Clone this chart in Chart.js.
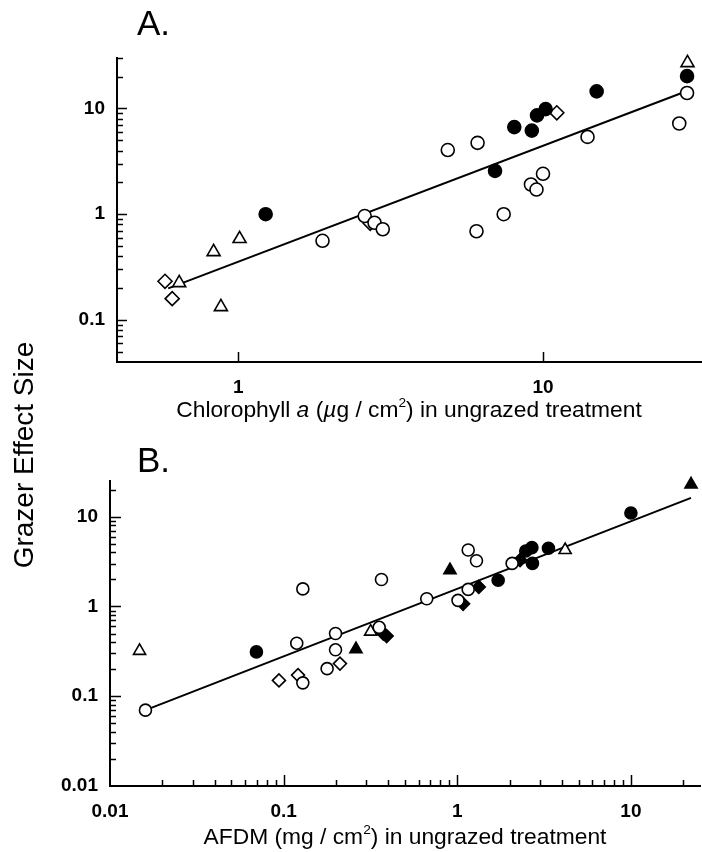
<!DOCTYPE html>
<html><head><meta charset="utf-8">
<script src="https://cdn.jsdelivr.net/npm/chart.js@4.4.1/dist/chart.umd.min.js"></script>
<style>
html,body{margin:0;padding:0;background:#fff;}
body{width:702px;height:852px;position:relative;overflow:hidden;font-family:'Liberation Sans',Arial,Helvetica,sans-serif;color:#000;}
.panel{position:absolute;left:0;width:702px;}
#wrapA{top:0;height:430px;}
#wrapB{top:430px;height:422px;}
.lab{position:absolute;font-size:35px;line-height:1;}
.xt{position:absolute;font-size:22.8px;line-height:1;text-align:center;white-space:nowrap;}
.xt sup{font-size:0.6em;line-height:0;vertical-align:0.7em;}
.yt{position:absolute;left:-126px;top:441px;width:300px;height:28px;font-size:28px;line-height:1;text-align:center;white-space:nowrap;transform:rotate(-90deg);transform-origin:center center;}
</style></head><body>
<div class="panel" id="wrapA"><canvas id="chartA"></canvas></div>
<div class="panel" id="wrapB"><canvas id="chartB"></canvas></div>
<div class="lab" style="left:137px;top:5px">A.</div>
<div class="lab" style="left:137px;top:442px">B.</div>
<div class="xt" style="left:117px;width:584px;top:398px">Chlorophyll <i>a</i> (<i>µ</i>g / cm<sup>2</sup>) in ungrazed treatment</div>
<div class="xt" style="left:110px;width:590px;top:825px">AFDM (mg / cm<sup>2</sup>) in ungrazed treatment</div>
<div class="yt">Grazer Effect Size</div>
<script>
// ---- tick labels ----
const A_xTickLabels = ['1', '10'];
const A_yTickLabels = ['0.1', '1', '10'];
const B_xTickLabels = ['0.01', '0.1', '1', '10'];
const B_yTickLabels = ['0.01', '0.1', '1', '10'];

// ---- Panel A: chlorophyll a (x) vs grazer effect size (y) ----
const A_openCircles = [[1.89,0.56],[2.60,0.96],[2.80,0.83],[2.98,0.72],[4.87,4.04],[6.10,4.73],[6.05,0.69],[7.43,1.0],[9.13,1.91],[9.52,1.71],[10.0,2.41],[14.0,5.38],[28.0,7.2],[29.7,14.0]];
const A_filledCircles = [[1.23,1.0],[6.96,2.57],[8.05,6.66],[9.19,6.17],[9.56,8.6],[10.2,9.85],[15.0,14.5],[29.7,20.2]];
const A_openTriangles = [[0.64,0.224],[0.83,0.44],[1.01,0.585],[0.877,0.133],[29.8,27.0]];
const A_openDiamonds = [[0.575,0.232],[0.607,0.159],[2.71,0.82],[11.1,9.1]];
const A_fitLine = [[0.589,0.199],[29.1,14.3]];

// ---- Panel B: AFDM (x) vs grazer effect size (y) ----
const B_openCircles = [[0.016,0.070],[0.119,0.39],[0.129,1.57],[0.129,0.141],[0.178,0.203],[0.199,0.50],[0.199,0.329],[0.355,0.586],[0.366,2.0],[0.667,1.22],[1.01,1.17],[1.156,1.55],[1.156,4.26],[1.29,3.23],[2.07,3.02]];
const B_filledCircles = [[0.0697,0.312],[1.72,1.96],[2.48,4.15],[2.69,4.52],[2.71,3.02],[3.35,4.45],[10.0,11.0]];
const B_openTriangles = [[0.0148,0.32],[0.317,0.524],[4.18,4.26]];
const B_filledTriangles = [[0.261,0.335],[0.908,2.54],[22.2,22.9]];
const B_openDiamonds = [[0.094,0.150],[0.121,0.172],[0.211,0.231]];
const B_filledDiamonds = [[0.375,0.50],[0.392,0.468],[1.08,1.07],[1.33,1.65],[2.30,3.29]];
const B_fitLine = [[0.016,0.070],[22.2,16.2]];

const FONT = "'Liberation Sans', Arial, Helvetica, sans-serif";
const pts = arr => arr.map(([x, y]) => ({x, y}));

function labelFor(list) {
  return function (v) {
    for (const t of list) {
      if (Math.abs(Math.log10(v) - Math.log10(parseFloat(t))) < 1e-6) return t;
    }
    return '';
  };
}

const tickMarks = {
  id: 'tickMarks',
  afterDraw(chart, args, opts) {
    const ctx = chart.ctx;
    ctx.save();
    ctx.strokeStyle = '#000';
    ctx.lineWidth = 1.5;
    ['x', 'y'].forEach(id => {
      const s = chart.scales[id];
      const cfg = opts[id];
      const e0 = Math.floor(Math.log10(s.min)), e1 = Math.ceil(Math.log10(s.max));
      for (let e = e0; e <= e1; e++) {
        for (let m = 1; m <= 9; m++) {
          const v = m * Math.pow(10, e);
          if (v < s.min * 1.001 || v > s.max * 1.001) continue;
          const major = m === 1;
          if (!major && !cfg.minor) continue;
          const len = major ? cfg.major : cfg.minorLen;
          const p = Math.round(s.getPixelForValue(v)) + 0.5;
          ctx.beginPath();
          if (id === 'x') { ctx.moveTo(p, s.top); ctx.lineTo(p, s.top - len); }
          else { ctx.moveTo(s.right, p); ctx.lineTo(s.right + len, p); }
          ctx.stroke();
        }
      }
    });
    ctx.restore();
  }
};

function markerSet(data, style, filled, radius) {
  return {
    type: 'scatter', data: pts(data), pointStyle: style,
    pointRadius: radius, pointHoverRadius: radius,
    pointBackgroundColor: filled ? '#000' : '#fff',
    pointBorderColor: '#000', pointBorderWidth: 1.6,
    clip: false, order: 1
  };
}
function fitSet(data) {
  return {
    type: 'line', data: pts(data), borderColor: '#000', borderWidth: 2,
    pointRadius: 0, fill: false, tension: 0, clip: false, order: 5
  };
}

function axis(min, max, labels, padding, fitProp, fitVal) {
  return {
    type: 'logarithmic', min, max,
    grid: {display: true, drawOnChartArea: false, drawTicks: false},
    border: {display: true, color: '#000', width: 2},
    ticks: {autoSkip: false, maxRotation: 0, minRotation: 0, padding, color: '#000',
      font: {family: FONT, size: 19, weight: 'bold'}, callback: labelFor(labels)},
    afterFit(s) {
      s[fitProp] = fitVal;
      s.paddingLeft = 0; s.paddingRight = 0; s.paddingTop = 0; s.paddingBottom = 0;
    }
  };
}

Chart.defaults.font.family = FONT;
Chart.defaults.color = '#000';

new Chart(document.getElementById('chartA'), {
  type: 'scatter',
  data: {datasets: [
    markerSet(A_openCircles, 'circle', false, 6.5),
    markerSet(A_filledCircles, 'circle', true, 6.5),
    markerSet(A_openTriangles, 'triangle', false, 7.5),
    markerSet(A_openDiamonds, 'rectRot', false, 7),
    fitSet(A_fitLine)
  ]},
  options: {
    responsive: true, maintainAspectRatio: false, animation: false,
    layout: {autoPadding: false, padding: {top: 58, right: 1, bottom: 0, left: 0}},
    plugins: {legend: {display: false}, tooltip: {enabled: false},
      tickMarks: {x: {major: 10, minor: false}, y: {major: 10, minor: true, minorLen: 6}}},
    scales: {
      x: Object.assign(axis(0.4, 33, A_xTickLabels, 14, 'height', 68), {position: 'bottom'}),
      y: Object.assign(axis(0.04, 30, A_yTickLabels, 12, 'width', 117), {position: 'left'})
    }
  },
  plugins: [tickMarks]
});

new Chart(document.getElementById('chartB'), {
  type: 'scatter',
  data: {datasets: [
    markerSet(B_openCircles, 'circle', false, 6),
    markerSet(B_filledCircles, 'circle', true, 6),
    markerSet(B_openTriangles, 'triangle', false, 7),
    markerSet(B_filledTriangles, 'triangle', true, 7),
    markerSet(B_openDiamonds, 'rectRot', false, 6.5),
    markerSet(B_filledDiamonds, 'rectRot', true, 6.5),
    fitSet(B_fitLine)
  ]},
  options: {
    responsive: true, maintainAspectRatio: false, animation: false,
    layout: {autoPadding: false, padding: {top: 51, right: 2, bottom: 0, left: 0}},
    plugins: {legend: {display: false}, tooltip: {enabled: false},
      tickMarks: {x: {major: 11, minor: true, minorLen: 6}, y: {major: 11, minor: true, minorLen: 6}}},
    scales: {
      x: Object.assign(axis(0.01, 25, B_xTickLabels, 14, 'height', 66), {position: 'bottom'}),
      y: Object.assign(axis(0.01, 25, B_yTickLabels, 12, 'width', 110), {position: 'left'})
    }
  },
  plugins: [tickMarks]
});
</script>
</body></html>
